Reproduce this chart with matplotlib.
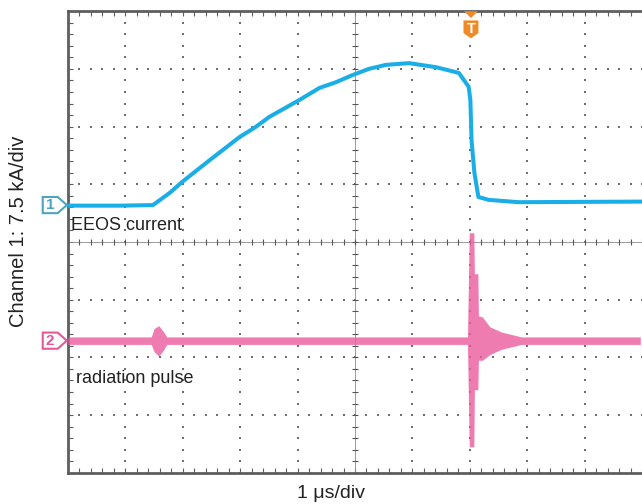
import matplotlib

matplotlib.use("Agg")
import matplotlib.pyplot as plt
import numpy as np
from matplotlib.patches import Polygon

plt.rcParams["font.family"] = ["Liberation Sans", "DejaVu Sans"]

# channel 1 (EEOS current), in screen divisions
ch1_x = [0.0, 0.9, 1.48, 1.77, 2.0, 2.47, 2.99, 3.25, 3.51, 4.03, 4.38, 4.67, 4.95,
         5.24, 5.54, 5.94, 6.41, 6.81, 6.98, 7.01, 7.03, 7.08, 7.15, 7.33, 7.85, 9.97]
ch1_y = [0.63, 0.63, 0.64, 0.85, 1.05, 1.42, 1.82, 1.98, 2.17, 2.46, 2.67, 2.77, 2.89,
         3.00, 3.07, 3.10, 3.03, 2.93, 2.69, 2.46, 1.77, 1.20, 0.78, 0.73, 0.69, 0.70]

# channel 2 (radiation pulse) upper / lower envelope, in screen divisions
ch2_x = [0.0, 1.45, 1.5, 1.58, 1.66, 1.72, 6.96, 6.99, 7.07, 7.08, 7.14, 7.15,
         7.22, 7.35, 7.55, 7.9, 9.97]
ch2_hi = [-1.645, -1.645, -1.50, -1.45, -1.55, -1.645, -1.645, 0.16, 0.16, -0.55, -0.55,
          -1.28, -1.30, -1.47, -1.56, -1.645, -1.645]
ch2_lo = [-1.775, -1.775, -1.90, -1.98, -1.88, -1.775, -1.775, -3.55, -3.55, -2.56, -2.56,
          -2.05, -2.05, -1.95, -1.86, -1.775, -1.775]

ch1_level = 0.64
ch2_level = -1.71
trig_x = 7.02

labels = {"ch1": "EEOS current", "ch2": "radiation pulse"}
xlabel = "1 \u03bcs/div"
ylabel = "Channel 1: 7.5 kA/div"

blue = "#1aaee6"
pink = "#ec5b9e"
frame = "#5e5e5e"

W, H = 642, 504
fig = plt.figure(figsize=(W / 100, H / 100), dpi=100)
div = 57.6
x0, ytop, ybot = 68, 11.2, 472.8
ax = fig.add_axes([x0 / W, (H - ybot) / H, (W - x0) / W, (ybot - ytop) / H])
ax.set_xlim(0, (W - x0) / div)
ax.set_ylim(-4, 4)

for side in ["left", "top", "bottom"]:
    ax.spines[side].set_color(frame)
    ax.spines[side].set_linewidth(2.0)
ax.spines["right"].set_visible(False)

ax.set_xticks(np.arange(0, 10.01, 0.2))
ax.set_yticks(np.arange(-4, 4.01, 0.2))
ax.tick_params(direction="in", length=3.5, width=0.8, color=frame,
               top=True, right=False, labelbottom=False, labelleft=False)

# graticule dots
steps = np.arange(0, 10.01, 0.2)
vsteps = np.arange(-4, 4.01, 0.2)
for gx in range(1, 10):
    if gx != 5:
        ax.plot(np.full_like(vsteps, gx), vsteps, ls="none", marker="s", ms=1.7,
                color="#6e6e6e", mew=0)
for gy in range(-3, 4):
    if gy != 0:
        ax.plot(steps, np.full_like(steps, gy), ls="none", marker="s", ms=1.7,
                color="#6e6e6e", mew=0)

# centre crosshair
ax.axhline(0, color="#8a8a8a", lw=0.6)
ax.axvline(5, color="#8a8a8a", lw=0.6)
ax.plot(steps, np.zeros_like(steps), ls="none", marker="|", ms=5, mew=0.8, color="#555555")
ax.plot(np.full_like(vsteps, 5), vsteps, ls="none", marker="_", ms=5, mew=0.8, color="#555555")

# traces
ax.fill_between(ch2_x, ch2_lo, ch2_hi, color=pink, alpha=0.8, lw=0, zorder=3)
ax.plot(ch1_x, ch1_y, color=blue, lw=2.9, solid_joinstyle="round", zorder=4)

# channel labels
ax.text(0.06, 0.29, labels["ch1"], fontsize=13, color="#222222", va="center", ha="left", zorder=5)
ax.text(0.14, -2.36, labels["ch2"], fontsize=13, color="#222222", va="center", ha="left", zorder=5)


def channel_marker(y, num, edge):
    h = 0.14
    pts = [(-0.44, y - h), (-0.18, y - h), (-0.02, y), (-0.18, y + h), (-0.44, y + h)]
    ax.add_patch(Polygon(pts, closed=True, facecolor="white", edgecolor=edge, lw=1.5,
                         clip_on=False, zorder=6))
    ax.text(-0.31, y, num, fontsize=11, fontweight="bold", color=edge, ha="center",
            va="center", clip_on=False, zorder=7)


channel_marker(ch1_level, "1", "#4ea3bf")
channel_marker(ch2_level, "2", "#e2589b")

# trigger marker
orange = "#f08a26"
ax.add_patch(Polygon([(trig_x - 0.12, 4.0), (trig_x + 0.12, 4.0), (trig_x, 3.88)], closed=True,
                     facecolor=orange, edgecolor="none", clip_on=False, zorder=6))
ax.add_patch(Polygon([(trig_x - 0.13, 3.84), (trig_x + 0.13, 3.84), (trig_x + 0.13, 3.62),
                      (trig_x, 3.53), (trig_x - 0.13, 3.62)], closed=True,
                     facecolor=orange, edgecolor="none", clip_on=False, zorder=6))
ax.text(trig_x, 3.70, "T", fontsize=10.5, fontweight="bold", color="white", ha="center",
        va="center", zorder=7)

fig.text(19 / W, 1 - 231 / H, ylabel, fontsize=14.5, color="#222222", rotation=90,
         ha="center", va="center")
fig.text(331 / W, 1 - 493 / H, xlabel, fontsize=14, color="#222222", ha="center", va="center")

fig.savefig("out.png", dpi=100)
